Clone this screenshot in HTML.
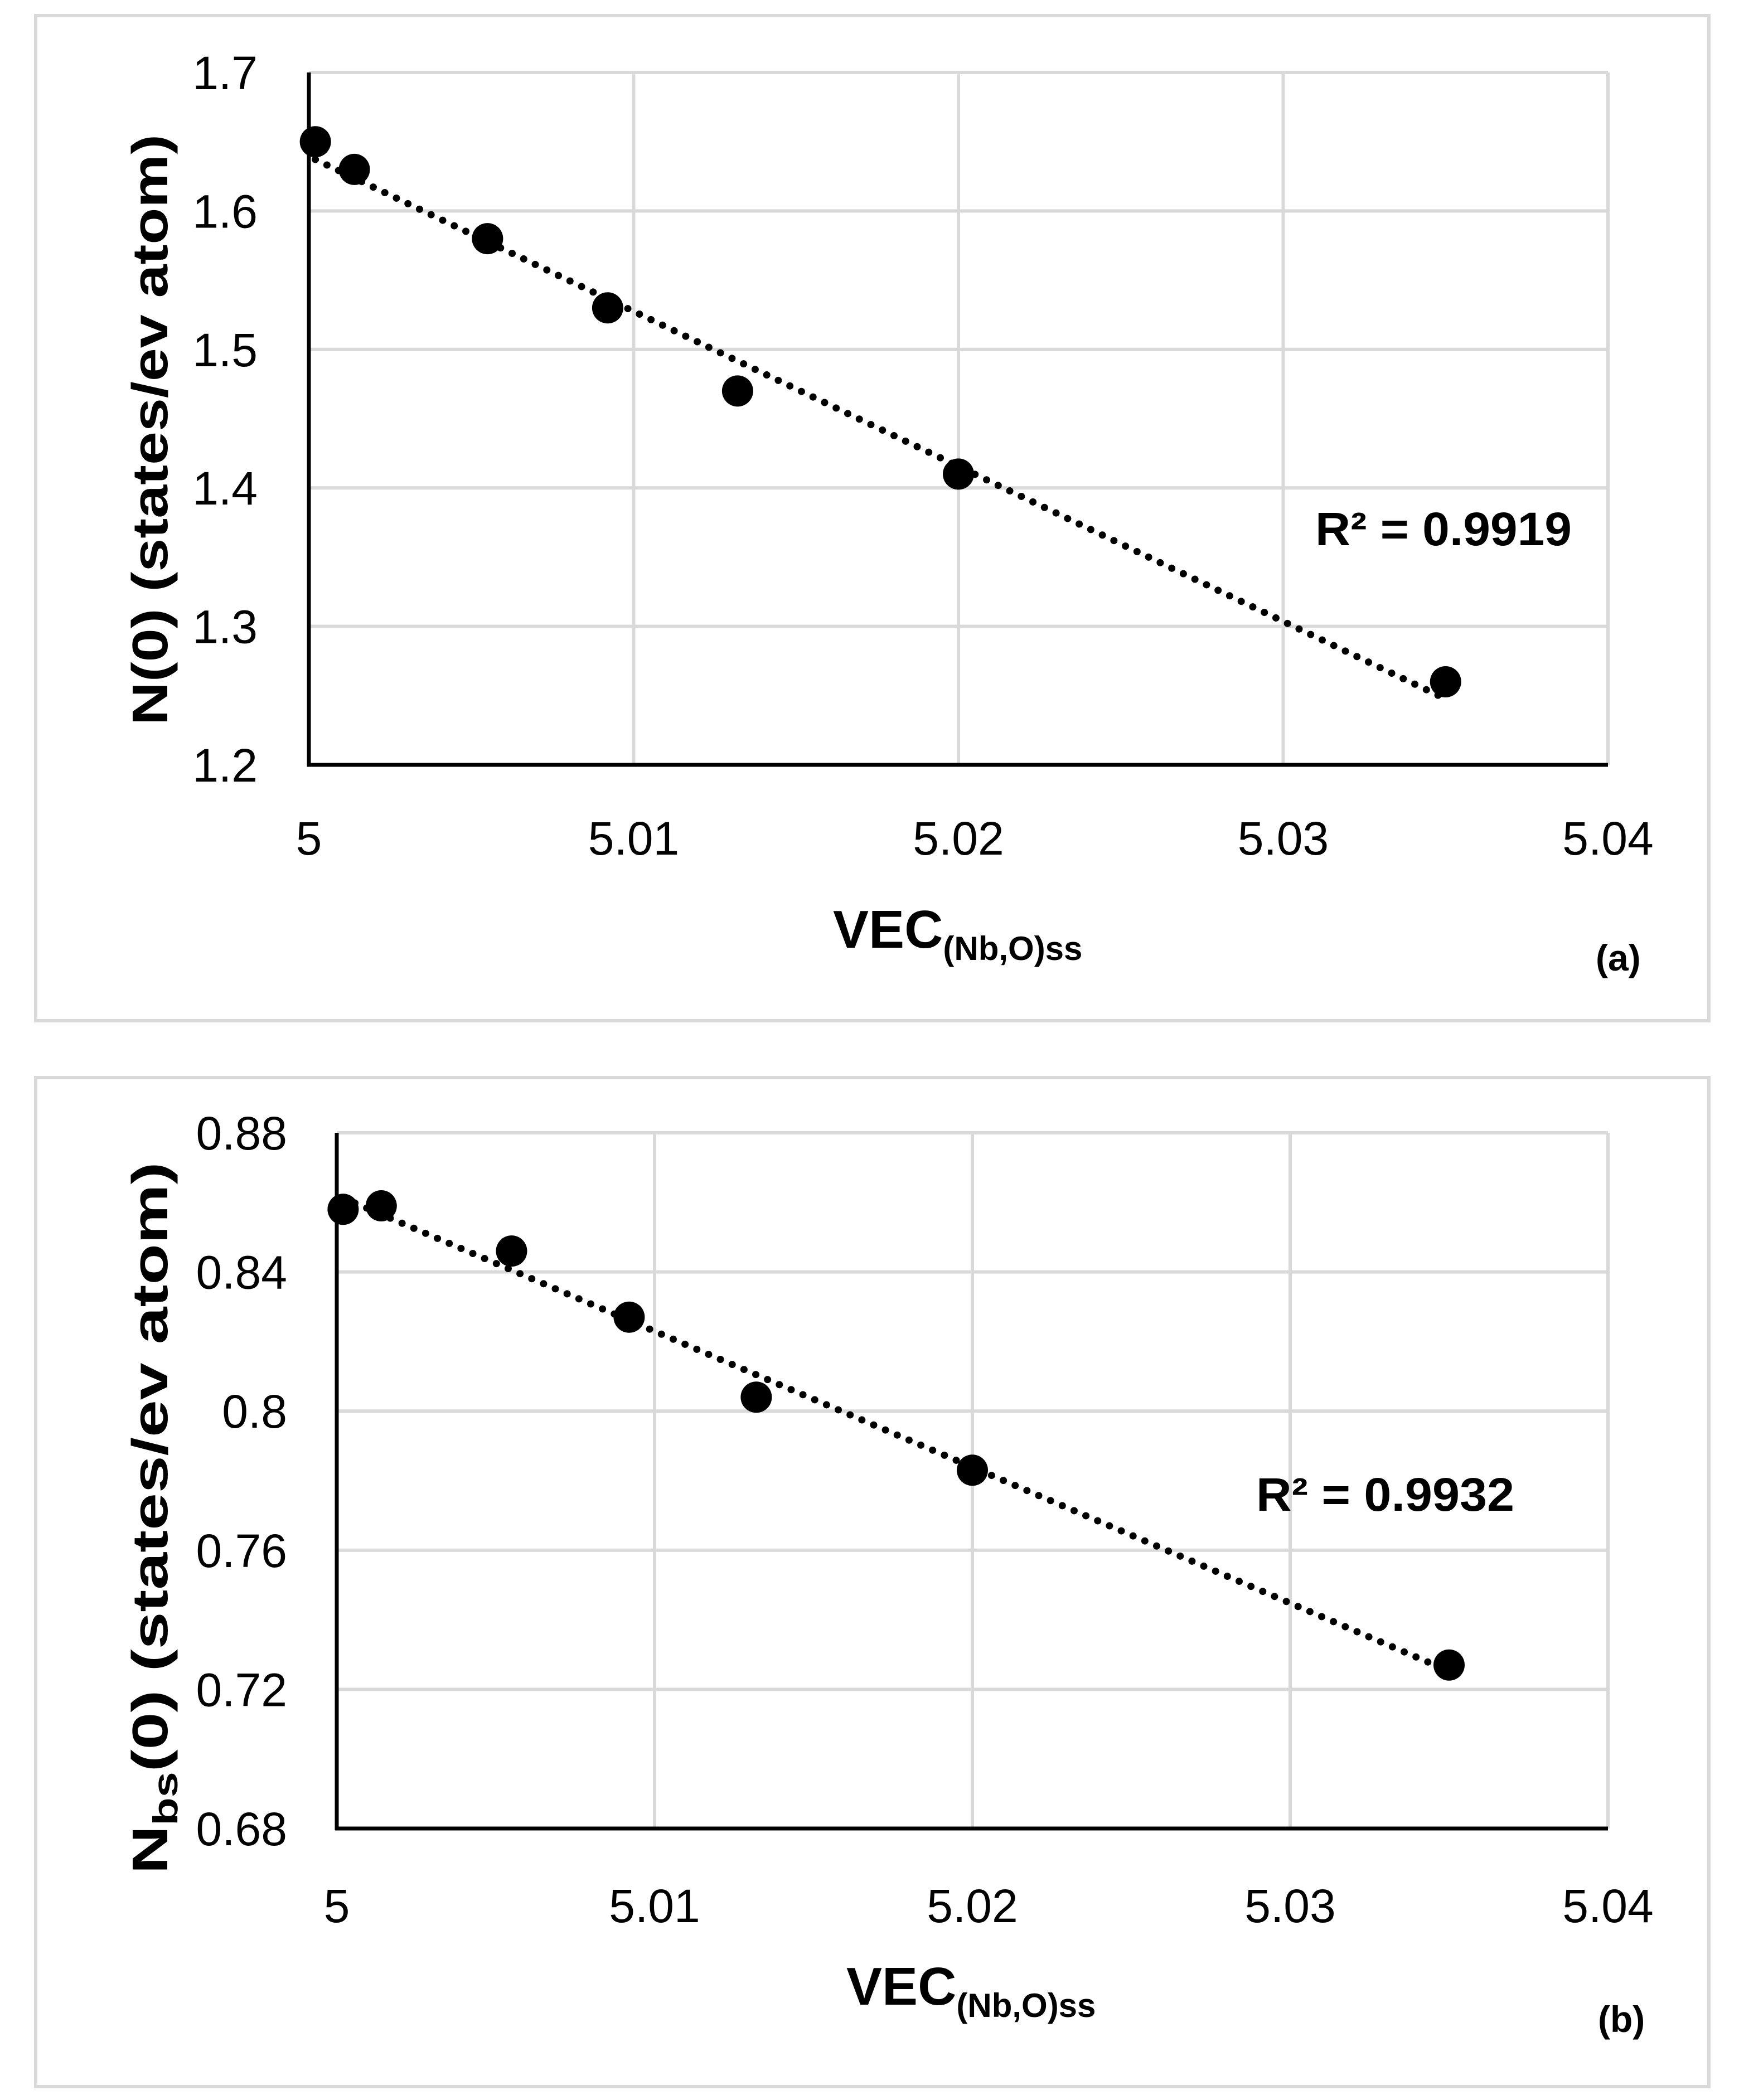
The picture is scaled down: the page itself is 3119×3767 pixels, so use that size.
<!DOCTYPE html>
<html><head><meta charset="utf-8"><style>
html,body{margin:0;padding:0;background:#fff;}
svg{display:block;}
text{font-family:"Liberation Sans",sans-serif;fill:#000;}
</style></head><body>
<svg id="fig" width="3119" height="3767" viewBox="0 0 3119 3767" xmlns="http://www.w3.org/2000/svg">
<rect x="64" y="28" width="3001" height="1803" fill="#fff" stroke="#d9d9d9" stroke-width="6"/>
<rect x="64" y="1933" width="3001" height="1810" fill="#fff" stroke="#d9d9d9" stroke-width="6"/>
<g id="ga"></g>
<g id="gb"></g>
</svg>
<script>
const xTicks = [5, 5.01, 5.02, 5.03, 5.04];
const xTickLabels = ["5", "5.01", "5.02", "5.03", "5.04"];
const aTicks = [1.2, 1.3, 1.4, 1.5, 1.6, 1.7];
const aTickLabels = ["1.2", "1.3", "1.4", "1.5", "1.6", "1.7"];
const aX = [5.0002, 5.0014, 5.0055, 5.0092, 5.0132, 5.020, 5.035];
const aY = [1.65, 1.63, 1.58, 1.53, 1.47, 1.41, 1.26];
const bTicks = [0.68, 0.72, 0.76, 0.80, 0.84, 0.88];
const bTickLabels = ["0.68", "0.72", "0.76", "0.8", "0.84", "0.88"];
const bX = [5.0002, 5.0014, 5.0055, 5.0092, 5.0132, 5.020, 5.035];
const bY = [0.858, 0.859, 0.846, 0.827, 0.804, 0.783, 0.727];

const NS = "http://www.w3.org/2000/svg";
function mk(parent, tag, attrs, txt) {
  const e = document.createElementNS(NS, tag);
  for (const k in attrs) e.setAttribute(k, attrs[k]);
  if (txt !== undefined) e.textContent = txt;
  parent.appendChild(e);
  return e;
}
function fit(xs, ys) {
  const n = xs.length; let sx=0, sy=0, sxx=0, sxy=0;
  for (let i=0;i<n;i++){sx+=xs[i];sy+=ys[i];sxx+=xs[i]*xs[i];sxy+=xs[i]*ys[i];}
  const m=(n*sxy-sx*sy)/(n*sxx-sx*sx); return [m,(sy-m*sx)/n];
}
function draw(g, cfg) {
  const px = v => cfg.L + (v - 5) / 0.04 * (cfg.R - cfg.L);
  const py = v => cfg.B - (v - cfg.ymin) / (cfg.ymax - cfg.ymin) * (cfg.B - cfg.T);
  cfg.yt.forEach((t, i) => {
    if (i > 0) {
      const l = mk(g, 'line', {x1: cfg.L, x2: cfg.R, y1: py(t), y2: py(t), stroke: '#d9d9d9', 'stroke-width': 6});
      
      
    }
    const tx = mk(g, 'text', {x: cfg.ylx, y: py(t) + 30, 'font-size': 84, 'text-anchor': 'end'}, cfg.ytl[i]);
    
    
  });
  xTicks.forEach((t, i) => {
    if (i > 0) {
      const l = mk(g, 'line', {x1: px(t), x2: px(t), y1: cfg.T, y2: cfg.B, stroke: '#d9d9d9', 'stroke-width': 6});
      
      
    }
    const tx = mk(g, 'text', {x: px(t), y: cfg.xly, 'font-size': 84, 'text-anchor': 'middle'}, xTickLabels[i]);
    
    
  });
  const ax = mk(g, 'line', {x1: cfg.L, x2: cfg.L, y1: cfg.T, y2: cfg.B + 3, stroke: '#000', 'stroke-width': 7});
  
  
  const bx = mk(g, 'line', {x1: cfg.L - 3, x2: cfg.R, y1: cfg.B, y2: cfg.B, stroke: '#000', 'stroke-width': 7});
  
  
  const [m, c] = fit(cfg.xs, cfg.ys);
  const x0 = cfg.xs[0], x1 = cfg.xs[cfg.xs.length - 1];
  const tl = mk(g, 'line', {x1: px(x0), y1: py(m*x0+c), x2: px(x1), y2: py(m*x1+c), stroke: '#000', 'stroke-width': 13, 'stroke-linecap': 'round', 'stroke-dasharray': '0 23'});
  
  
  cfg.xs.forEach((v, i) => {
    const p = mk(g, 'circle', {cx: px(v), cy: py(cfg.ys[i]), r: 28, fill: '#000'});
    
    
  });
}
const ga = document.getElementById('ga');
const gb = document.getElementById('gb');
draw(ga, {L: 554, R: 2884, T: 130, B: 1372, ymin: 1.2, ymax: 1.7, yt: aTicks, ytl: aTickLabels, ylx: 462, xly: 1533, xs: aX, ys: aY});
draw(gb, {L: 604, R: 2884, T: 2032, B: 3280, ymin: 0.68, ymax: 0.88, yt: bTicks, ytl: bTickLabels, ylx: 515, xly: 3448, xs: bX, ys: bY});
</script>
<svg style="position:absolute;left:0;top:0" width="3119" height="3767" viewBox="0 0 3119 3767">
<text transform="translate(300,771) rotate(-90)" text-anchor="middle" font-size="90" font-weight="bold" textLength="1060" lengthAdjust="spacingAndGlyphs">N(0) (states/ev atom)</text>
<text x="1494" y="1700" font-size="96" font-weight="bold">VEC<tspan font-size="60" dy="22">(Nb,O)ss</tspan></text>
<text x="2359" y="978" font-size="84" font-weight="bold" textLength="460" lengthAdjust="spacingAndGlyphs">R² = 0.9919</text>
<text x="2862" y="1741" font-size="66" font-weight="bold">(a)</text>
<text transform="translate(300,2723) rotate(-90)" text-anchor="middle" font-size="90" font-weight="bold" textLength="1277" lengthAdjust="spacingAndGlyphs">N<tspan font-size="62" dy="18">bs</tspan><tspan dy="-18">(0) (states/ev atom)</tspan></text>
<text x="1518" y="3596" font-size="96" font-weight="bold">VEC<tspan font-size="60" dy="22">(Nb,O)ss</tspan></text>
<text x="2253" y="2710" font-size="84" font-weight="bold" textLength="463" lengthAdjust="spacingAndGlyphs">R² = 0.9932</text>
<text x="2866" y="3645" font-size="66" font-weight="bold">(b)</text>
</svg>
</body></html>
